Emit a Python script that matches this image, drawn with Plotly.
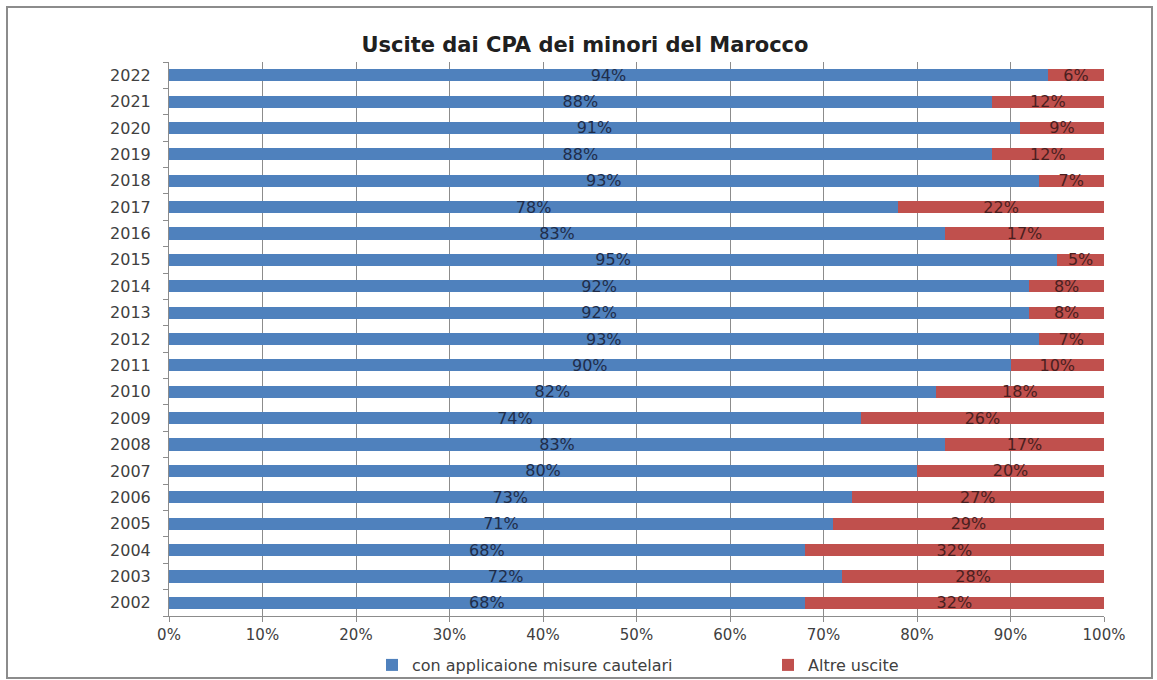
import plotly.graph_objects as go

years = ["2002", "2003", "2004", "2005", "2006", "2007", "2008", "2009", "2010", "2011",
         "2012", "2013", "2014", "2015", "2016", "2017", "2018", "2019", "2020", "2021", "2022"]
con_misure = [68, 72, 68, 71, 73, 80, 83, 74, 82, 90, 93, 92, 92, 95, 83, 78, 93, 88, 91, 88, 94]
altre_uscite = [32, 28, 32, 29, 27, 20, 17, 26, 18, 10, 7, 8, 8, 5, 17, 22, 7, 12, 9, 12, 6]
x_ticks = [0, 10, 20, 30, 40, 50, 60, 70, 80, 90, 100]
x_tick_labels = ["0%", "10%", "20%", "30%", "40%", "50%", "60%", "70%", "80%", "90%", "100%"]

W, H = 1157, 680
ml, mr, mt, mb = 169, 53, 62, 64
pw, ph = W - ml - mr, H - mt - mb

FONT = "DejaVu Sans, sans-serif"

fig = go.Figure()
fig.add_trace(go.Bar(
    y=years, x=con_misure, orientation="h", name="con applicaione misure cautelari",
    marker=dict(color="#4F81BD", line=dict(width=0)),
    text=[f"{v}%" for v in con_misure], textposition="inside", insidetextanchor="middle",
    textfont=dict(color="#1F2D4A", size=16, family=FONT), cliponaxis=False,
    legend="legend", showlegend=True,
))
fig.add_trace(go.Bar(
    y=years, x=altre_uscite, orientation="h", name="Altre uscite",
    marker=dict(color="#C0504D", line=dict(width=0)),
    text=[f"{v}%" for v in altre_uscite], textposition="inside", insidetextanchor="middle",
    textfont=dict(color="#4A1F1F", size=16, family=FONT), cliponaxis=False,
    legend="legend2", showlegend=True,
))

def px_x(p):
    return (p - ml) / pw

def px_y(p):
    return 1 - (p - mt) / ph

legend_common = dict(orientation="h", y=px_y(665), yanchor="middle", xanchor="left",
                     font=dict(size=16, color="#404040"), itemwidth=30,
                     bgcolor="rgba(0,0,0,0)", visible=True)

fig.update_layout(
    width=W, height=H,
    showlegend=True,
    barmode="stack", bargap=0.54,
    margin=dict(l=ml, r=mr, t=mt, b=mb, autoexpand=False),
    paper_bgcolor="white", plot_bgcolor="white",
    font=dict(family=FONT, size=15, color="#404040"),
    uniformtext=dict(minsize=16, mode="show"),
    title=dict(text="<b>Uscite dai CPA dei minori del Marocco</b>", x=585 / W, xanchor="center",
               y=1 - 45 / H, yanchor="middle", font=dict(size=21, color="#202020", family=FONT)),
    xaxis=dict(range=[0, 100], tickvals=x_ticks, ticktext=x_tick_labels,
               showgrid=True, gridcolor="#8C8C8C", gridwidth=1,
               showline=True, linecolor="#8C8C8C", ticks="outside", ticklen=5, tickcolor="#8C8C8C",
               zeroline=False, tickfont=dict(size=15, color="#404040"), fixedrange=True,
               automargin=False),
    yaxis=dict(showgrid=False, showline=True, linecolor="#8C8C8C", ticks="outside",
               ticklen=5, tickcolor="#8C8C8C", tickson="boundaries", ticklabelstandoff=14,
               tickfont=dict(size=16, color="#404040"), fixedrange=True, automargin=False),
    legend=dict(x=px_x(372), **legend_common),
    legend2=dict(x=px_x(768), **legend_common),
    shapes=[dict(type="rect", xref="paper", yref="paper",
                 x0=px_x(7), x1=px_x(1152), y0=px_y(678), y1=px_y(7),
                 line=dict(color="#8C8C8C", width=2), layer="below")],
)

fig.write_html("out.html", config={"displayModeBar": False},
               post_script="document.body.style.margin='0';document.body.style.overflow='hidden';")
